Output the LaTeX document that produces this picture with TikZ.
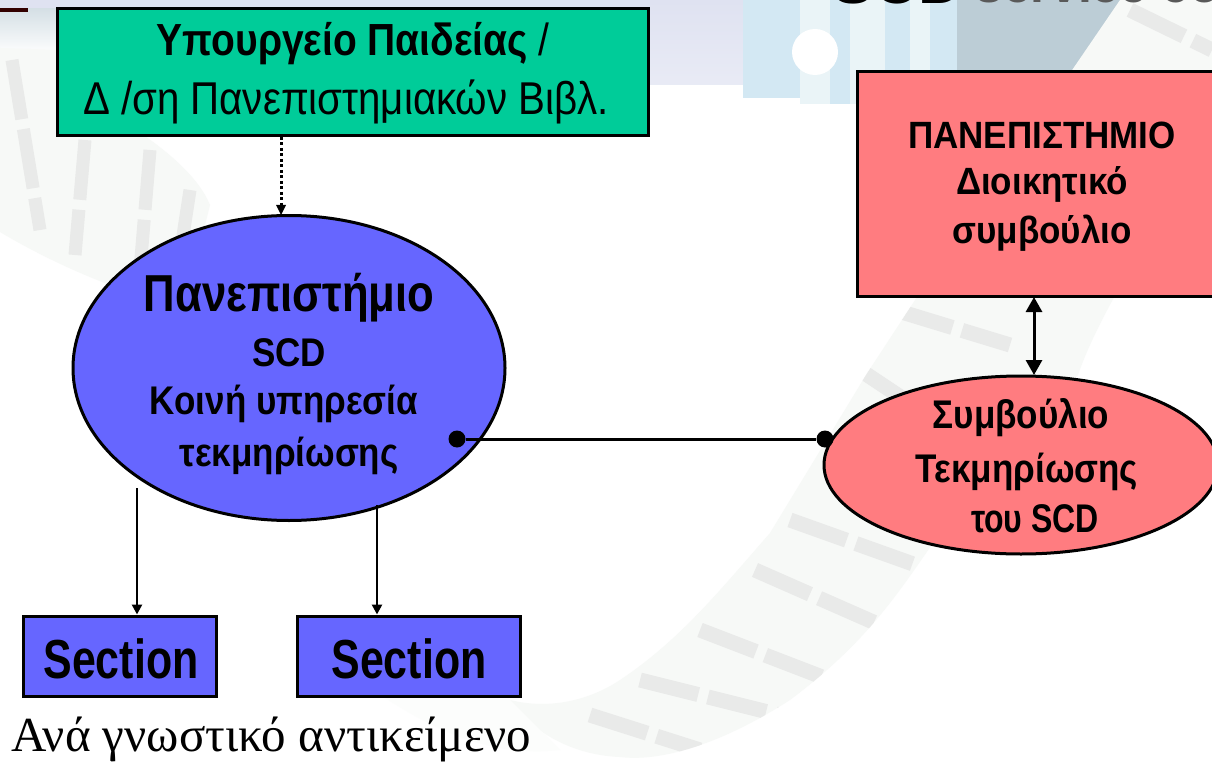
\documentclass[tikz,border=0pt]{standalone}
\usepackage{graphicx}
\usepackage{fontspec}
\setmainfont{Liberation Sans}
\newfontfamily\serifgr{Liberation Serif}
\usetikzlibrary{shapes.geometric,arrows.meta}
\definecolor{grn}{HTML}{00CC99}
\definecolor{blu}{HTML}{6666FF}
\definecolor{pnk}{HTML}{FF7C80}
\definecolor{ribbon}{HTML}{F7F9F7}
\definecolor{ribbonb}{HTML}{E9EAE9}
\definecolor{shelf}{HTML}{D3E8F3}
\definecolor{shelfp}{HTML}{EAF4F7}
\definecolor{shelfb}{HTML}{BCCDD6}
\definecolor{shelfc}{HTML}{DFE2F1}
\newcommand\sx[2]{\scalebox{#1}[1]{#2}}
\newcommand\fs[1]{\fontsize{#1}{#1}\selectfont}
\tikzset{
  lbl/.style={align=center,inner sep=0pt,text=black},
  boxg/.style={draw=black,line width=3pt,fill=grn,minimum width=591pt,minimum height=127pt,inner sep=0pt},
  boxr/.style={draw=black,line width=3pt,fill=pnk,minimum width=358pt,minimum height=224pt,inner sep=0pt},
  boxb/.style={draw=black,line width=3pt,fill=blu,inner sep=0pt},
  ell/.style={draw=black,line width=3pt,ellipse,inner sep=0pt},
  conn/.style={black,line width=2.6pt},
  tip/.style={-{Triangle[length=10pt,width=10pt]}},
  dotend/.style={circle,fill=black,minimum size=17pt,inner sep=0pt},
  texture/.style={ribbonb,line width=15pt,dash pattern=on 60pt off 10pt}
}
\begin{document}
\begin{tikzpicture}[x=1pt,y=-1pt]
\useasboundingbox (0,0) rectangle (1212,762);
\fill[white] (0,0) rectangle (1212,762);
% background photograph, faint
\shade[top color=shelfb!75,bottom color=white] (0,0) rectangle (60,55);
\fill[black!80!red] (0,0) rectangle (28,12);
\fill[shelfc] (0,0) rectangle (650,8);
\shade[top color=shelfc,bottom color=shelfc!70] (650,0) rectangle (743,85);
\fill[shelf] (743,0) rectangle (800,98);
\fill[shelfp] (800,0) rectangle (830,104);
\fill[shelf] (830,0) rectangle (850,104);
\fill[shelfp] (850,0) rectangle (885,104);
\fill[shelf] (885,0) rectangle (910,104);
\fill[shelfp] (910,0) rectangle (930,104);
\fill[shelf] (930,0) rectangle (957,104);
\fill[white] (815,52) circle (23);
\fill[shelfb] (957,0) -- (1140,0) .. controls (1145,20) and (1120,50) .. (1100,80) -- (957,80) -- cycle;
% right ribbon
\fill[ribbon] (1120,0) -- (1212,0) -- (1212,150) .. controls (1170,200) and (1100,310) .. (1078,375)
  -- (940,533) .. controls (900,590) and (870,640) .. (790,700) .. controls (720,745) and (660,762) .. (620,757)
  .. controls (570,755) and (530,730) .. (510,700) .. controls (550,710) and (590,700) .. (620,680)
  .. controls (680,640) and (720,590) .. (770,533) -- (866,375) -- (917,297) -- cycle;
\begin{scope}
\clip (1120,0) -- (1212,0) -- (1212,150) .. controls (1170,200) and (1100,310) .. (1078,375)
  -- (940,533) .. controls (900,590) and (870,640) .. (790,700) .. controls (720,745) and (660,762) .. (620,757)
  .. controls (570,755) and (530,730) .. (510,700) .. controls (550,710) and (590,700) .. (620,680)
  .. controls (680,640) and (720,590) .. (770,533) -- (866,375) -- (917,297) -- cycle;
\draw[texture] (895,310) -- (1010,345);
\draw[texture] (860,370) -- (950,430);
\draw[texture] (790,520) -- (930,570);
\draw[texture] (755,570) -- (880,625);
\draw[texture] (700,630) -- (830,680);
\draw[texture] (640,680) -- (780,715);
\draw[texture] (590,715) -- (700,750);
\draw[texture] (1130,10) -- (1212,50);
\end{scope}
% left ribbon
\fill[ribbon] (0,48) -- (60,50) -- (120,120) .. controls (170,150) and (200,180) .. (210,205)
  -- (200,245) .. controls (170,270) and (140,285) .. (110,285) .. controls (70,270) and (30,250) .. (0,232) -- cycle;
\begin{scope}
\clip (0,48) -- (60,50) -- (120,120) .. controls (170,150) and (200,180) .. (210,205)
  -- (200,245) .. controls (170,270) and (140,285) .. (110,285) .. controls (70,270) and (30,250) .. (0,232) -- cycle;
\draw[texture,line width=13pt] (12,60) -- (40,230);
\draw[texture,line width=13pt] (85,140) -- (75,255);
\draw[texture,line width=13pt] (150,150) -- (140,270);
\draw[texture,line width=13pt] (190,190) -- (180,255);
\end{scope}
\fill[ribbon!40!white] (330,640) .. controls (380,680) and (440,695) .. (510,700)
  -- (560,750) .. controls (470,760) and (400,710) .. (330,660) -- cycle;
% top strip text, cut by the page edge
\node[anchor=base west,inner sep=0pt,font=\bfseries\fs{62}] (scdtop) at (832,4) {SCD};
\node[anchor=base west,inner sep=0pt,font=\bfseries\fs{50},text=black!65] (scdrest) at (975,3) {service comm};
% boxes
\node[boxg] (min) at (353,72) {};
\node[lbl,font=\bfseries\fs{45}] (minA) at (353,44) {\sx{.865}{Υπουργείο Παιδείας }\sx{.865}{\mdseries /}};
\node[lbl,font=\fs{46}] (minB) at (346,102) {\sx{.875}{Δ /ση Πανεπιστημιακών Βιβλ.}};
\node[boxr] (uni) at (1036,184) {};
\node[lbl,font=\bfseries\fs{38}] (uniT) at (1042,135) {\sx{.92}{ΠΑΝΕΠΙΣΤΗΜΙΟ}};
\node[lbl,font=\bfseries\fs{38}] (uniM) at (1042,184) {\sx{.92}{Διοικητικό}};
\node[lbl,font=\bfseries\fs{38}] (uniB) at (1042,233) {\sx{.92}{συμβούλιο}};
\node[ell,fill=blu,minimum width=432pt,minimum height=305pt] (scd) at (289,368) {};
\node[lbl,font=\bfseries\fs{52}] (scdA) at (289,298) {\sx{.84}{Πανεπιστήμιο}};
\node[lbl,font=\bfseries\fs{40}] (scdB) at (289,353) {\sx{.875}{SCD}};
\node[lbl,font=\bfseries\fs{40}] (scdC) at (284,404) {\sx{.875}{Κοινή υπηρεσία}};
\node[lbl,font=\bfseries\fs{40}] (scdD) at (289,456) {\sx{.875}{τεκμηρίωσης}};
\node[ell,fill=pnk,minimum width=394pt,minimum height=178pt] (cou) at (1021,465) {};
\node[lbl,font=\bfseries\fs{40}] (couA) at (1021,418) {\sx{.875}{Συμβούλιο}};
\node[lbl,font=\bfseries\fs{40}] (couB) at (1027,472) {\sx{.875}{Τεκμηρίωσης}};
\node[lbl,font=\bfseries\fs{40}] (couC) at (1035,519) {\sx{.8}{του SCD}};
\node[boxb,minimum width=193pt,minimum height=80pt] (s1) at (120,656) {};
\node[lbl,font=\bfseries\fs{55}] (s1t) at (121,659) {\sx{.78}{Section}};
\node[boxb,minimum width=223pt,minimum height=80pt] (s2) at (409,656) {};
\node[lbl,font=\bfseries\fs{55}] (s2t) at (409,659) {\sx{.78}{Section}};
\node[anchor=base west,inner sep=0pt,font=\serifgr\fs{49}] (cap) at (11,751) {Ανά γνωστικό αντικείμενο};
% connectors
\coordinate (minOut) at (281,137);
\coordinate (scdIn) at (281,215);
\draw[black,line width=3pt,dash pattern=on 3pt off 2.5pt] (minOut) -- (281,206);
\fill (scdIn) -- (276,205) -- (286,205) -- cycle;
\coordinate (uOut) at (1034,297);
\coordinate (cIn) at (1034,375);
\draw[black,line width=3pt,{Triangle[length=15pt,width=16pt]}-{Triangle[length=15pt,width=16pt]}] (uOut) -- (cIn);
\node[dotend] (d1) at (457,439) {};
\node[dotend] (d2) at (825,439) {};
\draw[black,line width=3pt] (d1) -- (d2);
\coordinate (a1) at (137,488);
\coordinate (a2) at (377,505);
\draw[conn,tip] (a1) -- (a1 |- s1.north);
\draw[conn,tip] (a2) -- (a2 |- s2.north);
\end{tikzpicture}
\end{document}
